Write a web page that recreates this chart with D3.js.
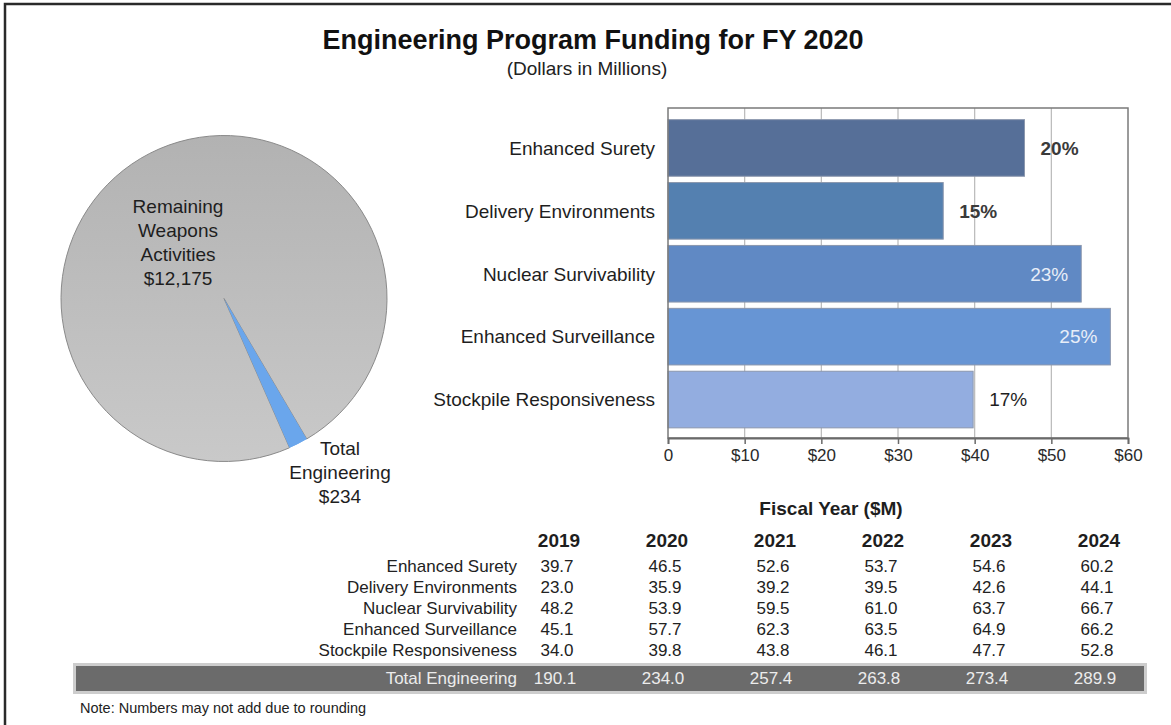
<!DOCTYPE html>
<html><head><meta charset="utf-8">
<script src="https://cdn.jsdelivr.net/npm/d3@7"></script>
<style>
html,body{margin:0;padding:0;background:#fff;}
svg{display:block;font-family:"Liberation Sans",Arial,sans-serif;}
</style></head>
<body>
<svg id="chart" width="1171" height="725"></svg>
<script>
// ---- data ----
const categories = ["Enhanced Surety","Delivery Environments","Nuclear Survivability","Enhanced Surveillance","Stockpile Responsiveness"];
const years = ["2019","2020","2021","2022","2023","2024"];
const fy2019 = [39.7, 23.0, 48.2, 45.1, 34.0];
const fy2020 = [46.5, 35.9, 53.9, 57.7, 39.8];
const fy2021 = [52.6, 39.2, 59.5, 62.3, 43.8];
const fy2022 = [53.7, 39.5, 61.0, 63.5, 46.1];
const fy2023 = [54.6, 42.6, 63.7, 64.9, 47.7];
const fy2024 = [60.2, 44.1, 66.7, 66.2, 52.8];
const totals = [190.1, 234.0, 257.4, 263.8, 273.4, 289.9];
const shareLabels = ["20%","15%","23%","25%","17%"];
const xTicks = [0,10,20,30,40,50,60];
const pieNames = ["Total Engineering","Remaining Weapons Activities"];
const pieValues = [234, 12175];
const pieLabelLines = [["Total","Engineering","$234"],["Remaining","Weapons","Activities","$12,175"]];
const byYear = [fy2019, fy2020, fy2021, fy2022, fy2023, fy2024];

// ---- drawing ----
const svg = d3.select("#chart");
const barColors = ["#566f98","#5480b0","#6089c4","#6795d4","#93ade0"];

// outer frame
svg.append("rect").attr("x",5).attr("y",4).attr("width",1200).attr("height",760)
  .attr("fill","none").attr("stroke","#2a2a2a").attr("stroke-width",2.5);

// titles
svg.append("text").attr("x",593).attr("y",49).attr("text-anchor","middle")
  .attr("font-size",27).attr("font-weight","bold").attr("fill","#111")
  .text("Engineering Program Funding for FY 2020");
svg.append("text").attr("x",587).attr("y",75).attr("text-anchor","middle")
  .attr("font-size",19).attr("fill","#222").text("(Dollars in Millions)");

// ---- pie ----
const defs = svg.append("defs");
const grad = defs.append("linearGradient").attr("id","pieGrad").attr("x1",0).attr("y1",0).attr("x2",0).attr("y2",1);
grad.append("stop").attr("offset","0%").attr("stop-color","#b2b2b2");
grad.append("stop").attr("offset","100%").attr("stop-color","#c9c9c9");

const pcx = 224, pcy = 298.5, pr = 163;
const start = 149.5*Math.PI/180;
const pie = d3.pie().sort(null).startAngle(start).endAngle(start+2*Math.PI);
const arcs = pie(pieValues);
const arc = d3.arc().innerRadius(0).outerRadius(pr);
const pg = svg.append("g").attr("transform",`translate(${pcx},${pcy})`);
pg.selectAll("path").data(arcs).join("path")
  .attr("d",arc)
  .attr("fill",(d,i)=> i===0 ? "#6aa6ec" : "url(#pieGrad)")
  .attr("stroke",(d,i)=> i===0 ? "none" : "#8a8a8a")
  .attr("stroke-width",1);
// redraw blue slice on top
pg.append("path").attr("d",arc(arcs[0])).attr("fill","#6aa6ec");

const pieLabelPos = [[116, 156.5],[-46, -85.5]];
pieLabelLines.forEach((lines,i)=>{
  const t = pg.append("text").attr("text-anchor","middle").attr("font-size",19).attr("fill","#1e1e1e");
  lines.forEach((ln,j)=>{
    t.append("tspan").attr("x",pieLabelPos[i][0]).attr("y",pieLabelPos[i][1]+j*24).text(ln);
  });
});

// ---- bar chart ----
const x = d3.scaleLinear().domain([0,60]).range([668,1128]);
const y = d3.scaleBand().domain(categories).range([116.5,431]).paddingInner(0.1).paddingOuter(0.05);
const plotTop = 108, plotBottom = 438;

// gridlines
svg.append("g").selectAll("line").data(xTicks.slice(1,-1)).join("line")
  .attr("x1",d=>x(d)).attr("x2",d=>x(d)).attr("y1",plotTop).attr("y2",plotBottom)
  .attr("stroke","#b9b9b9").attr("stroke-width",1.2);

// bars
svg.append("g").selectAll("rect").data(categories).join("rect")
  .attr("x",x(0)).attr("y",d=>y(d))
  .attr("width",(d,i)=>x(fy2020[i])-x(0)).attr("height",y.bandwidth())
  .attr("fill",(d,i)=>barColors[i]).attr("stroke","#8b97ad").attr("stroke-width",1);

// frame
svg.append("rect").attr("x",x(0)).attr("y",plotTop).attr("width",x(60)-x(0)).attr("height",plotBottom-plotTop)
  .attr("fill","none").attr("stroke","#7a7a7a").attr("stroke-width",1.5);

// x axis
const xAxis = d3.axisBottom(x).tickValues(xTicks).tickSize(6).tickPadding(5)
  .tickFormat(d=> d===0 ? "0" : "$"+d);
const ax = svg.append("g").attr("transform",`translate(0,${plotBottom})`).call(xAxis);
ax.select(".domain").attr("stroke","#6a6a6a").attr("stroke-width",1.8);
ax.selectAll(".tick line").attr("stroke","#6a6a6a").attr("stroke-width",1.5);
ax.selectAll("text").attr("font-size",17).attr("fill","#2a2a2a").attr("font-family","'Liberation Sans',Arial,sans-serif");

// category labels
svg.append("g").selectAll("text").data(categories).join("text")
  .attr("x",655).attr("y",d=>y(d)+y.bandwidth()/2).attr("dy","0.36em")
  .attr("text-anchor","end").attr("font-size",19).attr("fill","#1e1e1e").text(d=>d);

// share labels
svg.append("g").selectAll("text").data(categories).join("text")
  .attr("x",(d,i)=> fy2020[i] > 50 ? x(fy2020[i])-13 : x(fy2020[i])+16)
  .attr("y",d=>y(d)+y.bandwidth()/2).attr("dy","0.36em")
  .attr("text-anchor",(d,i)=> fy2020[i] > 50 ? "end" : "start")
  .attr("font-size",19)
  .attr("font-weight",(d,i)=> i<2 ? "bold" : "normal")
  .attr("fill",(d,i)=> fy2020[i] > 50 ? "#e8eef8" : (i<2 ? "#3a3a3a" : "#1e1e1e"))
  .text((d,i)=>shareLabels[i]);

// ---- table ----
const col = d3.scalePoint().domain(years).range([559,1099]);
const rowY = d3.scalePoint().domain(categories).range([572,656]);

svg.append("text").attr("x",831).attr("y",515).attr("text-anchor","middle")
  .attr("font-size",19).attr("font-weight","bold").attr("fill","#1e1e1e").text("Fiscal Year ($M)");

svg.append("g").selectAll("text").data(years).join("text")
  .attr("x",d=>col(d)).attr("y",547).attr("text-anchor","middle")
  .attr("font-size",19).attr("font-weight","bold").attr("fill","#1e1e1e").text(d=>d);

svg.append("g").selectAll("text").data(categories).join("text")
  .attr("x",517).attr("y",d=>rowY(d)).attr("text-anchor","end")
  .attr("font-size",17).attr("fill","#222").text(d=>d);

const cells = [];
years.forEach((yr,j)=>categories.forEach((c,i)=>cells.push({yr,c,v:byYear[j][i]})));
svg.append("g").selectAll("text").data(cells).join("text")
  .attr("x",d=>col(d.yr)-2).attr("y",d=>rowY(d.c)).attr("text-anchor","middle")
  .attr("font-size",17).attr("fill","#222").text(d=>d.v.toFixed(1));

// total row
svg.append("rect").attr("x",74.5).attr("y",664.5).attr("width",1071).attr("height",28)
  .attr("fill","#6b6b6b").attr("stroke","#cdcdcd").attr("stroke-width",3);
svg.append("text").attr("x",517).attr("y",684).attr("text-anchor","end")
  .attr("font-size",17).attr("fill","#ececec").text("Total Engineering");
svg.append("g").selectAll("text").data(totals).join("text")
  .attr("x",(d,i)=>col(years[i])-4).attr("y",684).attr("text-anchor","middle")
  .attr("font-size",17).attr("fill","#ececec").text(d=>d.toFixed(1));

// note
svg.append("text").attr("x",80).attr("y",713).attr("font-size",14.5).attr("fill","#222")
  .text("Note: Numbers may not add due to rounding");
</script>
</body></html>
